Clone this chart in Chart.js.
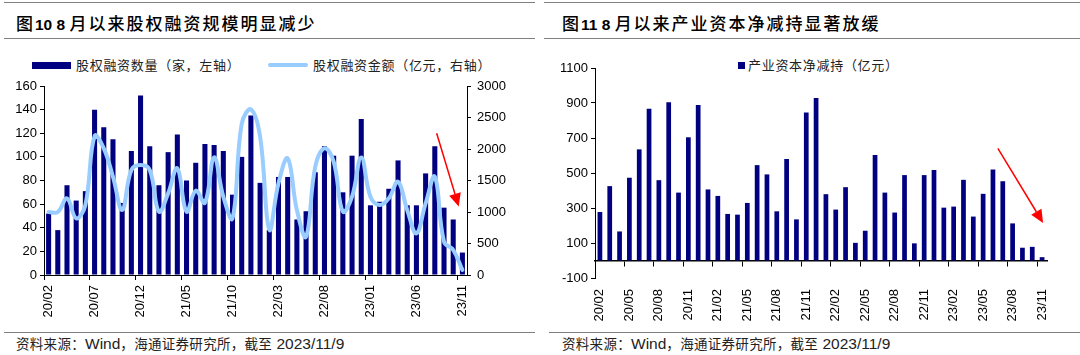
<!DOCTYPE html>
<html><head><meta charset="utf-8">
<script src="https://cdn.jsdelivr.net/npm/chart.js@4.4.1/dist/chart.umd.min.js"></script>
<style>
body{margin:0;width:1080px;height:355px;background:#fff;position:relative;overflow:hidden;font-family:"Liberation Sans","Noto Sans CJK SC",sans-serif;color:#000;}
.rule{position:absolute;height:0;border-top:1.5px solid #7f7f7f;}
.title{position:absolute;height:22px;line-height:22px;white-space:nowrap;font-family:"Noto Sans CJK SC",sans-serif;font-size:17px;font-weight:500;letter-spacing:2px;}
.title .num{font-family:"Liberation Sans",sans-serif;font-weight:bold;font-size:15.5px;letter-spacing:0;}
.leg{position:absolute;height:16px;line-height:16px;white-space:nowrap;font-family:"Noto Sans CJK SC",sans-serif;font-size:13px;letter-spacing:0.7px;color:#222;}
.sw{position:absolute;}
.src{position:absolute;height:20px;line-height:20px;white-space:nowrap;color:#222;}
.src .c{font-family:"Noto Sans CJK SC",sans-serif;font-size:13.5px;letter-spacing:0.3px;}
.src .l{font-family:"Liberation Sans",sans-serif;font-size:15.5px;}
canvas{position:absolute;}
</style></head>
<body>
<!-- left panel -->
<div class="rule" style="left:4px;top:2px;width:531px"></div>
<div class="title" style="left:16px;top:12px">图<span class="num">10 8 </span>月以来股权融资规模明显减少</div>
<div class="rule" style="left:4px;top:38px;width:531px"></div>
<div class="sw" style="left:32px;top:62px;width:39px;height:7px;background:#000080"></div>
<div class="leg" style="left:76px;top:57px">股权融资数量（家，左轴）</div>
<div class="sw" style="left:268px;top:63px;width:40px;height:4px;background:#99CCFF;border-radius:2px"></div>
<div class="leg" style="left:313px;top:57px">股权融资金额（亿元，右轴）</div>
<canvas id="c1" width="540" height="262" style="left:0;top:70px"></canvas>
<div class="rule" style="left:4px;top:332px;width:531px"></div>
<div class="src" style="left:16px;top:333px"><span class="c">资料来源：</span><span class="l">Wind</span><span class="c">，海通证券研究所，截至</span><span class="l"> 2023/11/9</span></div>

<!-- right panel -->
<div class="rule" style="left:544px;top:2px;width:536px"></div>
<div class="title" style="left:562px;top:12px">图<span class="num">11 8 </span>月以来产业资本净减持显著放缓</div>
<div class="rule" style="left:544px;top:38px;width:536px"></div>
<div class="sw" style="left:738px;top:62px;width:7px;height:7px;background:#000080"></div>
<div class="leg" style="left:748px;top:57px">产业资本净减持（亿元）</div>
<canvas id="c2" width="540" height="282" style="left:540px;top:50px"></canvas>
<div class="rule" style="left:549px;top:332px;width:531px"></div>
<div class="src" style="left:562px;top:333px"><span class="c">资料来源：</span><span class="l">Wind</span><span class="c">，海通证券研究所，截至</span><span class="l"> 2023/11/9</span></div>

<script>
// ---- data ----
const months = ['20/02','20/03','20/04','20/05','20/06','20/07','20/08','20/09','20/10','20/11','20/12',
  '21/01','21/02','21/03','21/04','21/05','21/06','21/07','21/08','21/09','21/10','21/11','21/12',
  '22/01','22/02','22/03','22/04','22/05','22/06','22/07','22/08','22/09','22/10','22/11','22/12',
  '23/01','23/02','23/03','23/04','23/05','23/06','23/07','23/08','23/09','23/10','23/11'];
// 股权融资数量（家）
const equityCount = [52,38,76,63,71,140,125,115,61,105,152,109,76,104,119,80,95,111,110,105,68,100,135,78,38,
  83,83,47,54,87,109,101,70,101,132,59,62,73,97,59,59,86,109,57,47,19];
// 股权融资金额（亿元）
const equityAmount = [1000,1000,1217,900,1111,2206,2010,1560,1032,1666,1746,1666,1005,1296,1693,1005,1338,1148,1867,1243,
  900,2400,2629,2195,720,1455,1850,1030,608,1720,2010,1800,1005,1243,1867,1243,1110,1217,1481,1030,661,1137,1560,529,397,80];
// 产业资本净减持（亿元）
const netReduction = [277,425,166,473,635,867,459,905,388,704,888,406,369,266,262,329,545,492,281,580,235,846,928,379,291,
  419,101,170,603,388,274,488,98,488,517,302,308,461,251,381,520,453,212,73,78,19];
const leftTicks = {min:0, max:160, step:20};
const rightTicks = {min:0, max:3000, step:500};
const netTicks = {min:-100, max:1100, step:200};

Chart.defaults.font.family = "'Liberation Sans','Noto Sans CJK SC',sans-serif";
Chart.defaults.font.size = 13;
Chart.defaults.color = '#000';
Chart.defaults.animation = false;

// red trend arrow (annotation, positioned in data units)
const arrowPlugin = {
  id: 'trendArrow',
  afterDatasetsDraw(chart, args, o) {
    if (!o || !o.from) return;
    const xs = chart.scales.x, ys = chart.scales[o.yId];
    const x1 = xs.getPixelForValue(o.from[0]), y1 = ys.getPixelForValue(o.from[1]);
    const x2 = xs.getPixelForValue(o.to[0]), y2 = ys.getPixelForValue(o.to[1]);
    const ang = Math.atan2(y2 - y1, x2 - x1), L = 13, W = 6;
    const bx = x2 - L * Math.cos(ang), by = y2 - L * Math.sin(ang);
    const ctx = chart.ctx;
    ctx.save();
    ctx.strokeStyle = '#FF0000'; ctx.fillStyle = '#FF0000'; ctx.lineWidth = 1.5;
    ctx.beginPath(); ctx.moveTo(x1, y1); ctx.lineTo(bx, by); ctx.stroke();
    ctx.beginPath();
    ctx.moveTo(x2, y2);
    ctx.lineTo(bx + W * Math.sin(ang), by - W * Math.cos(ang));
    ctx.lineTo(bx - W * Math.sin(ang), by + W * Math.cos(ang));
    ctx.closePath(); ctx.fill();
    ctx.restore();
  }
};

const axisY = (t, w, pad) => ({
  min: t.min, max: t.max,
  ticks: {stepSize: t.step, padding: pad, callback: v => String(v)},
  grid: {drawOnChartArea: false, tickLength: 4, color: '#000'},
  border: {color: '#000', width: 1},
  afterFit: s => { s.width = w; }
});

new Chart(document.getElementById('c1'), {
  type: 'bar',
  data: {
    labels: months,
    datasets: [
      {type: 'line', label: '股权融资金额（亿元，右轴）', data: equityAmount, xAxisID: 'x', yAxisID: 'y1',
       borderColor: '#99CCFF', borderWidth: 4, pointRadius: 0, tension: 0.4, order: 0, borderCapStyle: 'round'},
      {type: 'bar', label: '股权融资数量（家，左轴）', data: equityCount, xAxisID: 'x', yAxisID: 'y',
       backgroundColor: '#000080', categoryPercentage: 1, barPercentage: 0.55, order: 1}
    ]
  },
  options: {
    responsive: false, animation: false,
    layout: {padding: {left: 0, right: 0, top: 16, bottom: 0}},
    plugins: {legend: {display: false}, tooltip: {enabled: false},
      trendArrow: {yId: 'y', from: [42.2, 120], to: [44.6, 58]}},
    scales: {
      x: {offset: true,
        grid: {offset: true, drawOnChartArea: false, drawTicks: true, tickLength: 5,
               color: c => (c.index % 5 === 0 ? '#000' : 'rgba(0,0,0,0)')},
        border: {display: true, color: '#000', width: 1},
        ticks: {autoSkip: false, maxRotation: 90, minRotation: 90, padding: 5,
                callback: (v, i) => (i % 5 === 0 ? months[i] : '')},
        afterFit: s => { s.height = 57; }},
      y: axisY(leftTicks, 44, 3),
      y1: Object.assign(axisY(rightTicks, 73, 6), {position: 'right'})
    }
  },
  plugins: [arrowPlugin]
});

new Chart(document.getElementById('c2'), {
  type: 'bar',
  data: {
    labels: months,
    datasets: [
      {label: '产业资本净减持（亿元）', data: netReduction, xAxisID: 'x', yAxisID: 'y',
       backgroundColor: '#000080', categoryPercentage: 1, barPercentage: 0.48}
    ]
  },
  options: {
    responsive: false, animation: false,
    layout: {padding: {left: 0, right: 33, top: 18, bottom: 0}},
    plugins: {legend: {display: false}, tooltip: {enabled: false},
      trendArrow: {yId: 'y', from: [40.5, 641], to: [45.1, 215]}},
    scales: {
      x: {offset: true,
        grid: {display: false, drawTicks: false},
        border: {display: false},
        ticks: {autoSkip: false, maxRotation: 90, minRotation: 90, padding: 11,
                callback: (v, i) => (i % 3 === 0 ? months[i] : '')},
        afterFit: s => { s.height = 54; }},
      x2: {type: 'category', axis: 'x', position: {y: 0}, offset: true,
        grid: {offset: true, drawOnChartArea: false, drawTicks: true, tickLength: 5,
               color: c => (c.index % 3 === 0 ? '#000' : 'rgba(0,0,0,0)')},
        border: {display: true, color: '#000', width: 1.5},
        ticks: {display: false}},
      y: axisY(netTicks, 55, 3)
    }
  },
  plugins: [arrowPlugin]
});
</script>
</body></html>
